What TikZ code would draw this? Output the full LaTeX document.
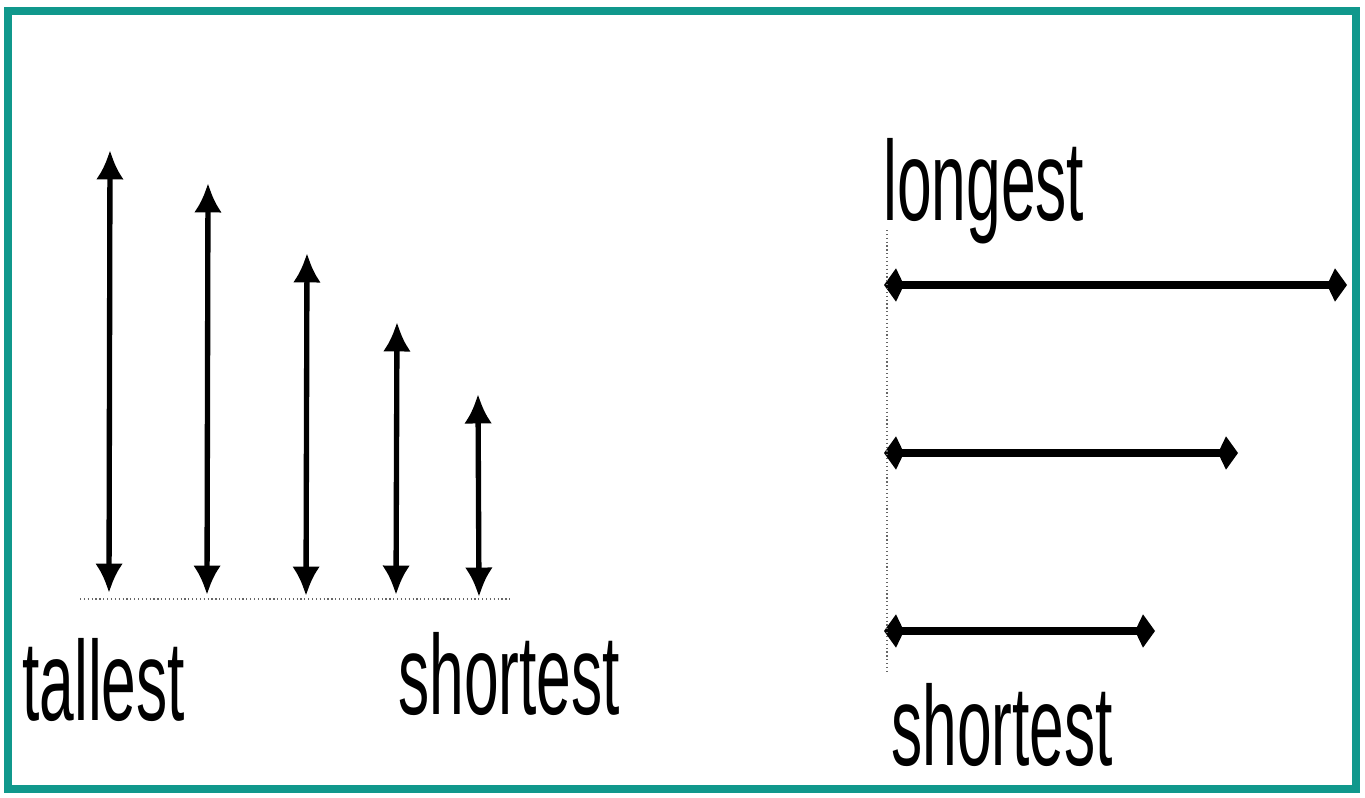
\documentclass[tikz,border=0pt]{standalone}
\usepackage{fontspec}
\usetikzlibrary{arrows.meta}
\newfontfamily\labelfont[FakeStretch=0.55]{Liberation Sans}
\definecolor{frameteal}{RGB}{16,152,140}
\tikzset{
	upright/.style={line width=4pt, {Latex[length=17pt,width=16pt,scale=1.3]}-{Latex[length=17pt,width=16pt,scale=1.3]}},
	sideways/.style={line width=6pt, {Kite[length=15pt,width=25pt,inset=6pt]}-{Kite[length=15pt,width=25pt,inset=6pt]}},
	guide/.style={dotted, line width=0.9pt, black!60},
	word/.style={anchor=base west, inner sep=0pt, font=\labelfont\fontsize{85}{90}\selectfont}
}
\begin{document}
\begin{tikzpicture}[x=0.75pt, y=-0.75pt]
		\useasboundingbox ( 0, 0 ) rectangle ( 1365, 797 );
		% рамка
		\draw [frameteal, line width=6pt] ( 8, 11 ) rectangle ( 1356, 789 );

		% вертикальные стрелки
		\coordinate (t1) at ( 110, 150 ); \coordinate (b1) at ( 109, 593 );
		\coordinate (t2) at ( 208, 183 ); \coordinate (b2) at ( 207, 595 );
		\coordinate (t3) at ( 307, 253 ); \coordinate (b3) at ( 306, 596 );
		\coordinate (t4) at ( 397, 322 ); \coordinate (b4) at ( 396, 595 );
		\coordinate (t5) at ( 478, 394 ); \coordinate (b5) at ( 479, 597 );
		\draw [upright] (b1) -- (t1);
		\draw [upright] (b2) -- (t2);
		\draw [upright] (b3) -- (t3);
		\draw [upright] (b4) -- (t4);
		\draw [upright] (b5) -- (t5);

		% базовая линия
		\coordinate (baseL) at ( 80, 599 ); \coordinate (baseR) at ( 510, 599 );
		\draw [guide] (baseL) -- (baseR);

		\node [word] (tallest) at ( 22, 720 ) {tallest};
		\node [word] (shortestL) at ( 398, 714 ) {shortest};

		% горизонтальные стрелки
		\coordinate (l1) at ( 884, 285 ); \coordinate (r1) at ( 1347, 285 );
		\coordinate (l2) at ( 884, 453 ); \coordinate (r2) at ( 1238, 453 );
		\coordinate (l3) at ( 884, 631 ); \coordinate (r3) at ( 1155, 631 );
		\draw [sideways] (l1) -- (r1);
		\draw [sideways] (l2) -- (r2);
		\draw [sideways] (l3) -- (r3);

		% начальная линия
		\coordinate (startT) at ( 887, 230 ); \coordinate (startB) at ( 887, 672 );
		\draw [guide] (startT) -- (startB);

		\node [word] (longest) at ( 883, 220 ) {longest};
		\node [word] (shortestR) at ( 891, 765 ) {shortest};
	\end{tikzpicture}
\end{document}
